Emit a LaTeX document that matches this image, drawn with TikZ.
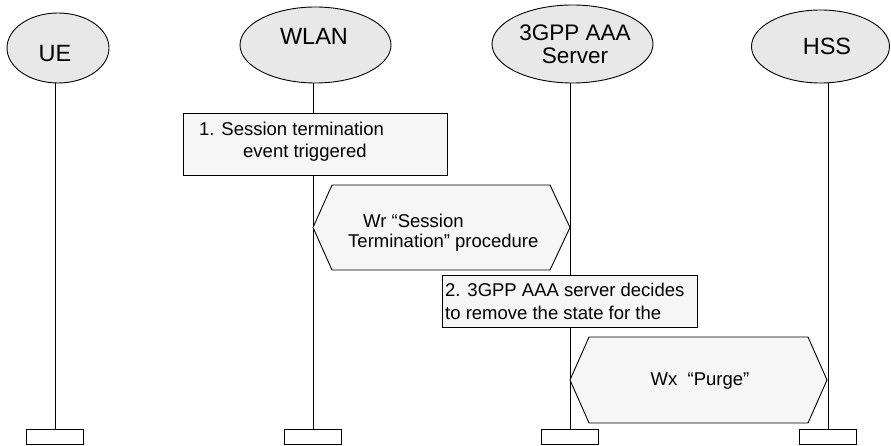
\documentclass[tikz,border=0pt]{standalone}
\usepackage{fontspec}
\setmainfont{Liberation Sans}
\usetikzlibrary{shapes.geometric}
\definecolor{ellfill}{HTML}{E8E8E8}
\definecolor{boxfill}{HTML}{F6F6F6}
\tikzset{
  ent/.style={ellipse, draw, fill=ellfill, line width=0.9pt, inner sep=0pt},
  endbox/.style={draw, fill=white, line width=0.9pt, minimum width=57pt, minimum height=15pt, inner sep=0pt},
  life/.style={line width=0.9pt},
  stepbox/.style={draw, fill=boxfill, line width=0.9pt},
  hexa/.style={draw, fill=boxfill, line width=0.9pt},
  txt/.style={inner sep=0pt, font=\fontsize{18.5}{24}\selectfont},
  enttxt/.style={inner sep=0pt, anchor=base, font=\fontsize{23.5}{24}\selectfont},
}
\begin{document}
\begin{tikzpicture}[x=1pt,y=-1pt]
\useasboundingbox (0,0) rectangle (891,446);
% entities
\node[ent, minimum width=102pt, minimum height=70pt] (ue) at (58,48) {};
\node[ent, minimum width=151pt, minimum height=76pt] (wlan) at (315.5,45) {};
\node[ent, minimum width=161pt, minimum height=78pt] (aaa) at (572.5,44) {};
\node[ent, minimum width=138pt, minimum height=73pt] (hss) at (820.5,46.5) {};
\node[enttxt] (uel) at (55,62) {UE};
\node[enttxt] (wlanl) at (314,45) {WLAN};
\node[enttxt, anchor=center, align=center, font=\fontsize{22.5}{23}\selectfont] (aaal) at (575,44.5) {3GPP AAA\\Server};
\node[enttxt] (hssl) at (827,55) {HSS};
% end boxes
\node[endbox] (ueb) at (55,436.5) {};
\node[endbox] (wlanb) at (313,436.5) {};
\node[endbox] (aaab) at (570,436.5) {};
\node[endbox] (hssb) at (828,436.5) {};
% lifelines
\draw[life] (ueb.north) -- (ueb.north |- ue.south);
\draw[life] (wlanb.north) -- (wlanb.north |- wlan.south);
\draw[life] (aaab.north) -- (aaab.north |- aaa.south);
\draw[life] (hssb.north) -- (hssb.north |- hss.south);
% step 1
\draw[stepbox] (183,113) rectangle (447,175);
\node[txt, anchor=base west] (s1a) at (199,136) {1. Session termination};
\node[txt, anchor=base west] (s1b) at (243,158) {event triggered};
% Wr procedure
\coordinate (h1l) at (313,227.5);
\coordinate (h1r) at (570,227.5);
\draw[hexa] (h1l) -- (332,185) -- (550,185) -- (h1r) -- (550,270) -- (332,270) -- cycle;
\node[txt, anchor=base west] (w1) at (363,228) {Wr “Session};
\node[txt, anchor=base west] (w2) at (348,248) {Termination” procedure};
% step 2
\draw[stepbox] (442,275) rectangle (697,327);
\node[txt, anchor=base west] (s2a) at (445,297) {2. 3GPP AAA server decides};
\node[txt, anchor=base west] (s2b) at (445,319) {to remove the state for the};
% Wx purge
\coordinate (h2l) at (570,380);
\coordinate (h2r) at (827,380);
\draw[hexa] (h2l) -- (589,337) -- (808,337) -- (h2r) -- (808,423) -- (589,423) -- cycle;
\node[txt, anchor=base] (px) at (700,385) {Wx~ “Purge”};
\end{tikzpicture}
\end{document}
